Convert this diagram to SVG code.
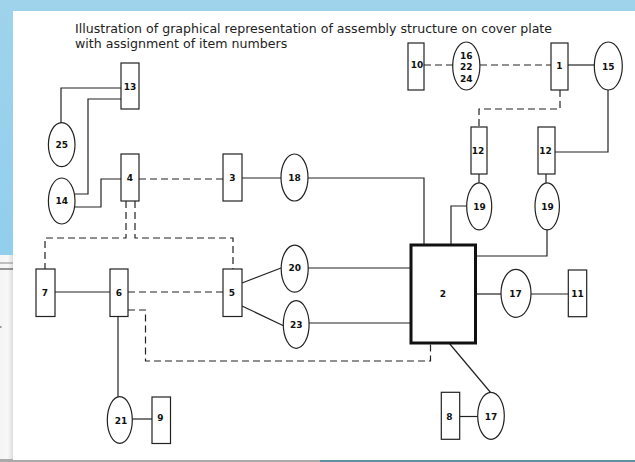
<svg xmlns="http://www.w3.org/2000/svg" width="635" height="462" viewBox="0 0 635 462">
<defs>
<linearGradient id="topband" x1="0" y1="0" x2="0" y2="1">
<stop offset="0" stop-color="#9fd3ec"/>
<stop offset="1" stop-color="#86cbee"/>
</linearGradient>
<linearGradient id="leftshade" x1="0" y1="0" x2="1" y2="0">
<stop offset="0" stop-color="#f4f4f4"/>
<stop offset="0.6" stop-color="#f8f8f8"/>
<stop offset="1" stop-color="#dcdcdc"/>
</linearGradient>
<style>
.bx{fill:#fff;stroke:#222;stroke-width:1.2}
.el{fill:#fff;stroke:#222;stroke-width:1.2}
.big{fill:#fff;stroke:#111;stroke-width:3}
.ln{fill:none;stroke:#222;stroke-width:1.2}
.ds{fill:none;stroke:#222;stroke-width:1.2;stroke-dasharray:7 4}
.lb{font-family:"DejaVu Sans",Verdana,sans-serif;font-size:9px;font-weight:bold;fill:#111;text-anchor:middle;dominant-baseline:central}
.tt{font-family:"DejaVu Sans",Verdana,sans-serif;font-size:12.6px;fill:#222}
</style>
</defs>
<!-- background -->
<rect x="0" y="0" width="635" height="462" fill="url(#topband)"/>
<rect x="0" y="255" width="13" height="207" fill="url(#leftshade)"/>
<line x1="0" y1="263" x2="13" y2="263" stroke="#888" stroke-width="1"/>
<line x1="0" y1="269" x2="13" y2="269" stroke="#333" stroke-width="1"/>
<rect x="0" y="326" width="1.5" height="2" fill="#999"/>
<rect x="0" y="459" width="320" height="3" fill="#aaa"/>
<rect x="320" y="459" width="315" height="3" fill="#5f8fa3"/>
<rect x="13" y="11" width="622" height="449" fill="#fff"/>
<!-- title -->
<text class="tt" x="75" y="33" textLength="477" lengthAdjust="spacingAndGlyphs">Illustration of graphical representation of assembly structure on cover plate</text>
<text class="tt" x="75" y="48">with assignment of item numbers</text>
<!-- connectors -->
<g id="connectors">
<polyline class="ln" points="121,88 61,88 61,123"/>
<polyline class="ln" points="121,99 88,99 88,194 75,194"/>
<polyline class="ln" points="121,179 101,179 101,207 75,207"/>
<line class="ds" x1="139" y1="179" x2="223" y2="179"/>
<line class="ln" x1="242" y1="178" x2="281" y2="178"/>
<polyline class="ln" points="308,178 424,178 424,245"/>
<polyline class="ln" points="467,206 451,206 451,245"/>
<line class="ln" x1="479" y1="174" x2="479" y2="183"/>
<line class="ln" x1="546" y1="174" x2="546" y2="183"/>
<polyline class="ln" points="547,230 547,256 476,256"/>
<polyline class="ln" points="608,90 608,152 555,152"/>
<line class="ln" x1="568" y1="65" x2="594" y2="65"/>
<line class="ds" x1="424" y1="65" x2="453" y2="65"/>
<line class="ds" x1="480" y1="65" x2="551" y2="65"/>
<polyline class="ds" points="560,90 560,109 479,109 479,127"/>
<polyline class="ds" points="126,201 126,238 45,238 45,269"/>
<polyline class="ds" points="135,201 135,238 233,238 233,269"/>
<line class="ln" x1="55" y1="292" x2="110" y2="292"/>
<line class="ds" x1="128" y1="292" x2="223" y2="292"/>
<polyline class="ds" points="128,310 145.5,310 145.5,361 430.5,361 430.5,343"/>
<line class="ln" x1="118" y1="317" x2="118" y2="397"/>
<line class="ln" x1="132" y1="419" x2="152" y2="419"/>
<line class="ln" x1="242" y1="283" x2="281" y2="268"/>
<line class="ln" x1="242" y1="306" x2="284" y2="326"/>
<line class="ln" x1="308" y1="268" x2="411" y2="268"/>
<line class="ln" x1="309" y1="323" x2="411" y2="323"/>
<line class="ln" x1="476" y1="294" x2="501" y2="294"/>
<line class="ln" x1="531" y1="294" x2="568" y2="294"/>
<line class="ln" x1="449" y1="343" x2="491" y2="393"/>
<line class="ln" x1="460" y1="416.5" x2="478" y2="416.5"/>
</g>
<!-- nodes -->
<g id="n13"><rect class="bx" x="121" y="63" width="18" height="46"/><text class="lb" x="130" y="87">13</text></g>
<g id="n25"><ellipse class="el" cx="61.7" cy="144.7" rx="13.3" ry="22"/><text class="lb" x="61.7" y="145">25</text></g>
<g id="n14"><ellipse class="el" cx="61.7" cy="201" rx="13.3" ry="23"/><text class="lb" x="61.7" y="201">14</text></g>
<g id="n4"><rect class="bx" x="121" y="154" width="18" height="47"/><text class="lb" x="130" y="178">4</text></g>
<g id="n3"><rect class="bx" x="223" y="154" width="19" height="47"/><text class="lb" x="232.5" y="178">3</text></g>
<g id="n18"><ellipse class="el" cx="294.5" cy="177.5" rx="13.5" ry="23.5"/><text class="lb" x="294.5" y="178">18</text></g>
<g id="n10"><rect class="bx" x="408" y="43" width="16" height="47"/><text class="lb" x="417" y="65">10</text></g>
<g id="n16"><ellipse class="el" cx="466.3" cy="66" rx="13.6" ry="24"/><text class="lb" x="466.3" y="55.7">16</text><text class="lb" x="466.3" y="67.3">22</text><text class="lb" x="466.3" y="79">24</text></g>
<g id="n1"><rect class="bx" x="551" y="43" width="17" height="47"/><text class="lb" x="559.5" y="66">1</text></g>
<g id="n15"><ellipse class="el" cx="608.3" cy="66" rx="14" ry="24"/><text class="lb" x="608.3" y="66.5">15</text></g>
<g id="n12a"><rect class="bx" x="471" y="127" width="16" height="47"/><text class="lb" x="478" y="151">12</text></g>
<g id="n12b"><rect class="bx" x="538" y="127" width="17" height="47"/><text class="lb" x="545.5" y="151">12</text></g>
<g id="n19a"><ellipse class="el" cx="479.2" cy="206.3" rx="12.5" ry="23.5"/><text class="lb" x="479.5" y="206.5">19</text></g>
<g id="n19b"><ellipse class="el" cx="547.2" cy="206.3" rx="12.2" ry="23.5"/><text class="lb" x="547.5" y="206.5">19</text></g>
<g id="n2"><rect class="big" x="411" y="245" width="64.5" height="98"/><text class="lb" x="443" y="294">2</text></g>
<g id="n7"><rect class="bx" x="36" y="269" width="19" height="47.5"/><text class="lb" x="45" y="293">7</text></g>
<g id="n6"><rect class="bx" x="110" y="269" width="18" height="47.5"/><text class="lb" x="119" y="293">6</text></g>
<g id="n5"><rect class="bx" x="223" y="269" width="19" height="47.5"/><text class="lb" x="232" y="293">5</text></g>
<g id="n20"><ellipse class="el" cx="294.7" cy="268.7" rx="13.5" ry="23.5"/><text class="lb" x="294.7" y="267.5">20</text></g>
<g id="n23"><ellipse class="el" cx="296.2" cy="324.5" rx="12.9" ry="23.8"/><text class="lb" x="296.2" y="325">23</text></g>
<g id="n21"><ellipse class="el" cx="119.8" cy="420" rx="12.5" ry="23.3"/><text class="lb" x="121" y="420.5">21</text></g>
<g id="n9"><rect class="bx" x="152" y="397" width="18.5" height="46.5"/><text class="lb" x="160.5" y="418">9</text></g>
<g id="n17a"><ellipse class="el" cx="516" cy="293.3" rx="15" ry="24"/><text class="lb" x="515.5" y="294">17</text></g>
<g id="n11"><rect class="bx" x="568.3" y="270" width="18.4" height="46.7"/><text class="lb" x="577.5" y="294">11</text></g>
<g id="n17b"><ellipse class="el" cx="491" cy="415.8" rx="13.3" ry="23.5"/><text class="lb" x="491" y="416.5">17</text></g>
<g id="n8"><rect class="bx" x="441.3" y="392.3" width="18.4" height="47"/><text class="lb" x="449.5" y="416.5">8</text></g>
</svg>
